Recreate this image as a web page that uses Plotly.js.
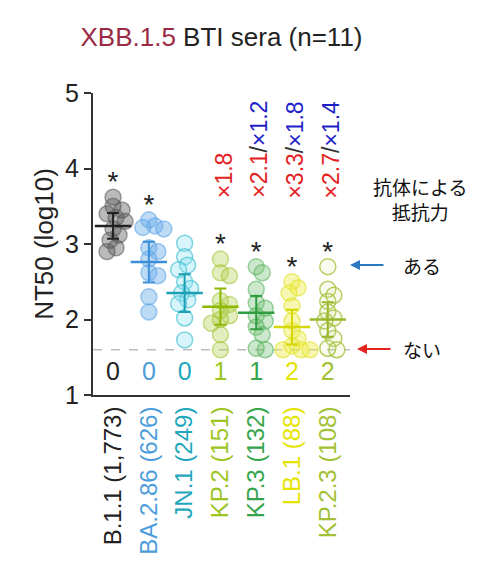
<!DOCTYPE html>
<html><head><meta charset="utf-8">
<script src="https://cdn.plot.ly/plotly-3.0.1.min.js"></script>
<style>html,body{margin:0;padding:0;background:#fff}#chart{width:490px;height:580px}</style>
</head><body><div id="chart"></div>
<script>
// ---- data ----
const variants = ['B.1.1', 'BA.2.86', 'JN.1', 'KP.2', 'KP.3', 'LB.1', 'KP.2.3'];
const seqCounts = ['1,773', '626', '249', '151', '132', '88', '108'];
const vB11  = [3.62, 3.50, 3.45, 3.40, 3.35, 3.30, 3.20, 3.12, 3.05, 2.95, 2.90];
const vBA286 = [3.32, 3.24, 3.22, 3.20, 2.95, 2.90, 2.80, 2.62, 2.58, 2.30, 2.10];
const vJN1  = [3.01, 2.83, 2.72, 2.66, 2.50, 2.41, 2.35, 2.26, 2.21, 2.02, 1.73];
const vKP2  = [2.80, 2.62, 2.58, 2.25, 2.20, 2.12, 2.05, 2.00, 1.95, 1.80, 1.60];
const vKP3  = [2.70, 2.62, 2.40, 2.22, 2.15, 2.05, 1.98, 1.90, 1.80, 1.62, 1.60];
const vLB1  = [2.50, 2.42, 2.35, 2.18, 1.98, 1.85, 1.75, 1.65, 1.60, 1.60, 1.60];
const vKP23 = [2.70, 2.40, 2.32, 2.24, 2.10, 2.02, 1.98, 1.85, 1.75, 1.62, 1.60];
const groupValues = [vB11, vBA286, vJN1, vKP2, vKP3, vLB1, vKP23];
const means = [3.24, 2.76, 2.35, 2.17, 2.09, 1.90, 2.00];
const errs  = [0.17, 0.27, 0.25, 0.24, 0.22, 0.23, 0.23];
const significant = [true, true, false, true, true, true, true];
const escapeCounts = [0, 0, 0, 1, 1, 2, 2];
const foldRed  = [null, null, null, 1.8, 2.1, 3.3, 2.7];
const foldBlue = [null, null, null, null, 1.2, 1.8, 1.4];
const LOD = 1.6;

// ---- styling ----
const dotFill  = ['rgba(90,90,90,0.42)', 'rgba(110,175,235,0.45)', 'rgba(140,225,240,0.35)',
                  'rgba(175,205,70,0.35)', 'rgba(110,190,110,0.35)', 'rgba(235,235,60,0.40)', 'rgba(215,230,150,0.15)'];
const dotLine  = ['rgba(90,90,90,0.55)', 'rgba(90,160,230,0.55)', 'rgba(50,185,205,0.60)',
                  'rgba(160,195,50,0.55)', 'rgba(80,175,90,0.55)', 'rgba(225,225,40,0.60)', 'rgba(160,190,50,0.75)'];
const meanCol  = ['#222222', '#3a8fd8', '#1c9fb4', '#8cb800', '#2f9e40', '#d6d600', '#98b82c'];
const labelCol = ['#222222', '#4d9ddb', '#1fa7bd', '#9cc51f', '#35a54b', '#e4e400', '#a3c134'];

const XPX = 35.8, YPX = 75.5, MIN_D = 8.5, STEP = 3;
function swarm(vals) {
  const placed = [], off = new Array(vals.length);
  const order = vals.map((v, i) => i).sort((a, b) => vals[b] - vals[a]);
  for (const i of order) {
    let best = 0;
    for (let t = 0; t < 30; t++) {
      const cand = t === 0 ? 0 : (t % 2 ? 1 : -1) * Math.ceil(t / 2) * STEP;
      if (placed.every(p => Math.hypot(p.x - cand, (p.y - vals[i]) * YPX) >= MIN_D)) { best = cand; break; }
    }
    placed.push({x: best, y: vals[i]});
    off[i] = best / XPX;
  }
  return off;
}

const traces = [];
groupValues.forEach((vals, g) => {
  const off = swarm(vals);
  traces.push({
    type: 'scatter', mode: 'markers', x: vals.map((v, i) => g + off[i]), y: vals,
    marker: {size: 16, color: dotFill[g], line: {color: dotLine[g], width: 1.5}},
    hoverinfo: 'skip'
  });
});
means.forEach((m, g) => {
  traces.push({
    type: 'scatter', mode: 'markers', x: [g], y: [m],
    marker: {symbol: 'line-ew', size: 26, color: meanCol[g], line: {color: meanCol[g], width: 2.5}},
    error_y: {type: 'data', array: [errs[g]], color: meanCol[g], thickness: 2, width: 6},
    hoverinfo: 'skip'
  });
});
// asterisks
const sx = [], sy = [];
significant.forEach((s, g) => { if (s) { sx.push(g); sy.push(Math.max(...groupValues[g]) + 0.17); } });
traces.push({type: 'scatter', mode: 'text', x: sx, y: sy, text: sx.map(() => '*'),
  textfont: {size: 28, color: '#222'}, hoverinfo: 'skip'});
// escape counts
traces.push({type: 'scatter', mode: 'text', x: variants.map((v, i) => i), y: variants.map(() => 1.28),
  text: escapeCounts.map(String), textfont: {size: 25, color: labelCol}, hoverinfo: 'skip'});

const annotations = [];
foldRed.forEach((r, g) => {
  if (r === null) return;
  let t = '<span style="color:#e3221f">×' + r.toFixed(1) + '</span>';
  if (foldBlue[g] !== null) t += '<span style="color:#333">/</span><span style="color:#1f1fc8">×' + foldBlue[g].toFixed(1) + '</span>';
  annotations.push({x: g + 0.08, y: 3.58, xref: 'x', yref: 'y', text: t, textangle: -90,
    showarrow: false, xanchor: 'center', yanchor: 'bottom', font: {size: 23}});
});
const jp = {family: 'Noto Sans CJK JP', size: 19, color: '#111'};
annotations.push({xref: 'paper', yref: 'paper', x: (420 - 93) / 257, y: (395 - 199) / 302, text: '抗体による<br>抵抗力',
  showarrow: false, font: jp, xanchor: 'center', yanchor: 'middle'});
annotations.push({xref: 'paper', yref: 'paper', x: (422 - 93) / 257, y: (395 - 265) / 302, text: 'ある',
  showarrow: false, font: jp, xanchor: 'center', yanchor: 'middle'});
annotations.push({xref: 'paper', yref: 'paper', x: (422 - 93) / 257, y: (395 - 349) / 302, text: 'ない',
  showarrow: false, font: jp, xanchor: 'center', yanchor: 'middle'});
annotations.push({xref: 'paper', yref: 'paper', x: (350 - 93) / 257, y: (395 - 265) / 302, text: '',
  showarrow: true, ax: 35, ay: 0, arrowhead: 2, arrowsize: 1, arrowwidth: 2, arrowcolor: '#2a78c0'});
annotations.push({xref: 'paper', yref: 'paper', x: (357 - 93) / 257, y: (395 - 349) / 302, text: '',
  showarrow: true, ax: 35, ay: 0, arrowhead: 2, arrowsize: 1, arrowwidth: 2, arrowcolor: '#e52420'});

const layout = {
  width: 490, height: 580,
  margin: {l: 93, r: 140, t: 93, b: 185},
  paper_bgcolor: '#fff', plot_bgcolor: 'rgba(0,0,0,0)',
  showlegend: false,
  font: {family: 'Liberation Sans, Arial, sans-serif', color: '#222'},
  title: {text: '<span style="color:#9b2b45">XBB.1.5</span> BTI sera (n=11)', font: {size: 26, color: '#222'},
    x: 0.5, xref: 'paper', xanchor: 'center', y: 1 - 37 / 580, yref: 'container', yanchor: 'middle'},
  xaxis: {range: [-0.56, 6.62], tickvals: variants.map((v, i) => i),
    ticktext: variants.map((v, i) => '<span style="color:' + labelCol[i] + '">' + v + ' (' + seqCounts[i] + ')</span>'),
    tickangle: -90, showline: true, linewidth: 2, linecolor: '#333', ticks: '', showgrid: false, zeroline: false,
    tickfont: {size: 24}, fixedrange: true},
  yaxis: {range: [1, 5], tickvals: [1, 2, 3, 4, 5], ticks: 'outside', ticklen: 7, tickwidth: 2, tickcolor: '#333',
    showline: true, linewidth: 2, linecolor: '#333', showgrid: false, zeroline: false, tickfont: {size: 25},
    title: {text: 'NT50 (log10)', font: {size: 26}, standoff: 4}, fixedrange: true},
  shapes: [{type: 'line', xref: 'paper', yref: 'y', x0: 0, x1: 1, y0: LOD, y1: LOD, layer: 'below',
    line: {color: '#bdbdbd', width: 1.5, dash: 'dash'}}],
  annotations: annotations
};
Plotly.newPlot('chart', traces, layout, {displayModeBar: false, staticPlot: true});
</script></body></html>
